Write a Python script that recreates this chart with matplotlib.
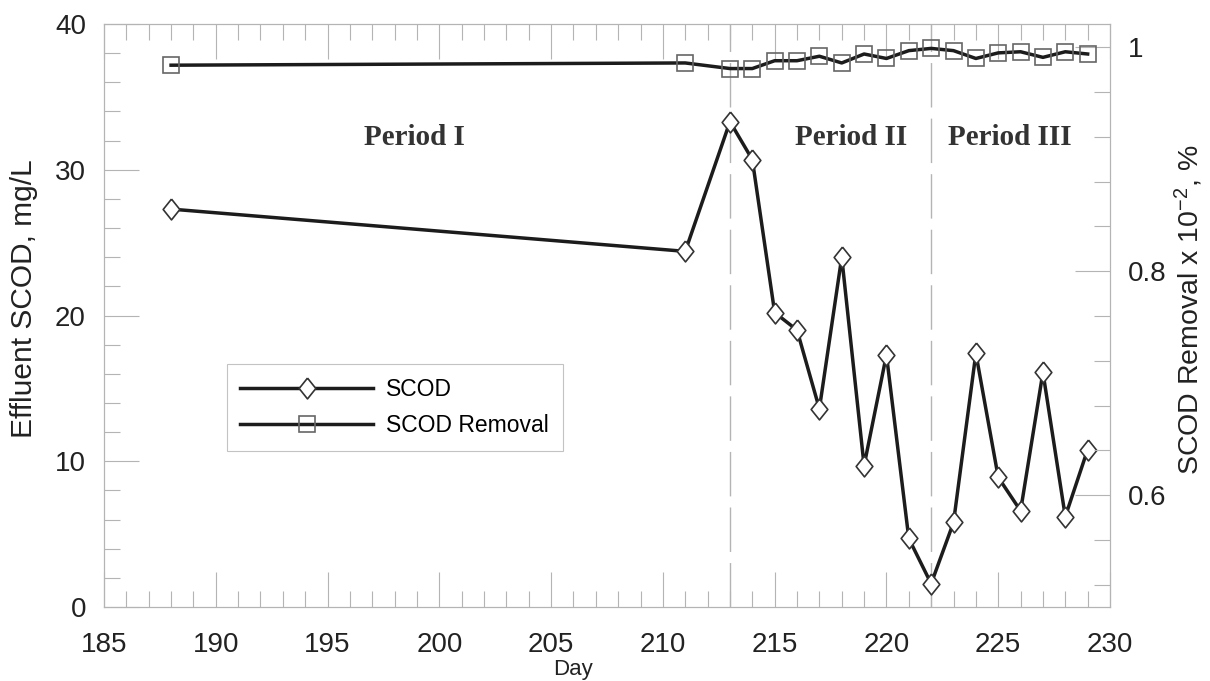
import numpy as np
import matplotlib
matplotlib.use("Agg")
import matplotlib.pyplot as plt
from matplotlib.ticker import MultipleLocator, FuncFormatter

# effluent SCOD (mg/L) and SCOD removal (fraction) by day
day = [188, 211, 213, 214, 215, 216, 217, 218, 219, 220,
       221, 222, 223, 224, 225, 226, 227, 228, 229]
scod = [27.3, 24.4, 33.3, 30.7, 20.2, 19.0, 13.6, 24.0, 9.7, 17.3,
        4.7, 1.6, 5.8, 17.4, 8.9, 6.6, 16.1, 6.2, 10.8]
removal = [0.984, 0.986, 0.981, 0.981, 0.988, 0.988, 0.992, 0.986, 0.994, 0.990,
           0.997, 0.999, 0.997, 0.990, 0.995, 0.996, 0.991, 0.996, 0.994]

period_names = ["Period I", "Period II", "Period III"]
period_x = [198.9, 218.4, 225.5]
period_bounds = [213, 222]

grey = "#b4b4b4"
ink = "#1c1c1c"

plt.rcParams["font.family"] = "Liberation Sans"
plt.rcParams["mathtext.default"] = "regular"

fig = plt.figure(figsize=(12.1, 6.81), dpi=100)
ax = fig.add_axes([104/1210, 74/681, 1006/1210, 583/681])
ax2 = ax.twinx()

# diamond a bit taller than wide
diamond = [(0, 1), (0.8, 0), (0, -1), (-0.8, 0), (0, 1)]

l1, = ax.plot(day, scod, color=ink, lw=2.5, marker=diamond, ms=15,
              mfc="white", mec="#333333", mew=1.2, label="SCOD", zorder=4)
l2, = ax2.plot(day, removal, color=ink, lw=2.5, marker="s", ms=12,
               mfc="none", mec="#666666", mew=1.2, label="SCOD Removal", zorder=4)

for xb in period_bounds:
    ax.axvline(xb, color=grey, lw=1, ls=(0, (32, 8)), zorder=1)

for name, xp in zip(period_names, period_x):
    ax.text(xp, 32.2, name, family="Liberation Serif",
            fontweight="bold", fontsize=21, color="#333333",
            ha="center", va="center")

ax.set_xlim(185, 230)
ax.set_ylim(0, 40)
ax2.set_ylim(0.5, 1.0208)

ax.xaxis.set_major_locator(MultipleLocator(5))
ax.xaxis.set_minor_locator(MultipleLocator(1))
ax.yaxis.set_major_locator(MultipleLocator(10))
ax.yaxis.set_minor_locator(MultipleLocator(2))
ax2.yaxis.set_major_locator(MultipleLocator(0.2))
ax2.yaxis.set_minor_locator(MultipleLocator(0.04))
ax2.yaxis.set_major_formatter(FuncFormatter(lambda v, p: "%g" % round(v, 2)))

ax.tick_params(axis="x", which="both", direction="in", top=True, colors=grey,
               labelcolor="#222222", labelsize=20, pad=18)
ax.tick_params(axis="y", which="both", direction="in", right=False, colors=grey,
               labelcolor="#222222", labelsize=20, pad=13)
ax2.tick_params(axis="y", which="both", direction="in", colors=grey,
                labelcolor="#222222", labelsize=20, pad=13)
for a in (ax, ax2):
    a.tick_params(which="major", length=25, width=0.8)
    a.tick_params(which="minor", length=11.5, width=0.8)
    for s in a.spines.values():
        s.set_color(grey)
        s.set_linewidth(0.8)

ax.set_xlabel("Day", fontsize=16, color="#222222", labelpad=0)
ax.xaxis.set_label_coords(0.466, -0.09)
ax.set_ylabel("Effluent SCOD, mg/L", fontsize=21.5, color="#222222")
ax.yaxis.set_label_coords(-0.066, 0.528)
ax2.set_ylabel("SCOD Removal x 10$^{-2}$, %", fontsize=20.5, color="#222222")
ax2.yaxis.set_label_coords(1.062, 0.51)

leg = ax.legend(handles=[l1, l2], loc="upper left", bbox_to_anchor=(0.122, 0.417),
                fontsize=16.5, frameon=True, fancybox=False, handlelength=5.8,
                handletextpad=0.57, borderpad=0.6, labelspacing=0.6,
                borderaxespad=0)
leg.get_frame().set_edgecolor(grey)
leg.get_frame().set_linewidth(0.8)

fig.savefig("out.png", dpi=100)
